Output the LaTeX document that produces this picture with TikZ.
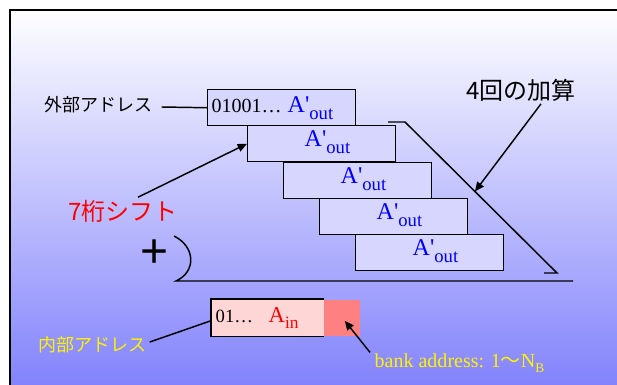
\documentclass[tikz,border=0pt]{standalone}
\usepackage{fontspec}
\setmainfont{Liberation Serif}
\newfontfamily\jp{Noto Sans CJK JP}
\newfontfamily\plusfont{Liberation Sans}
\usetikzlibrary{arrows.meta,calc}
\definecolor{bgblue}{RGB}{126,126,252}
\definecolor{boxfill}{RGB}{214,214,255}
\definecolor{pinkfill}{RGB}{255,214,214}
\definecolor{bankred}{RGB}{255,128,128}
\newcommand\Aout{{\fontsize{18}{18}\selectfont A\textquotesingle}\raisebox{-5.5pt}{\fontsize{14}{14}\selectfont out}}
\newcommand\Ain{{\fontsize{17}{17}\selectfont A}\raisebox{-5pt}{\fontsize{13}{13}\selectfont in}}
\begin{document}
\begin{tikzpicture}[x=0.75pt,y=-0.75pt,line width=1.1pt,
  abox/.style={draw,fill=boxfill,minimum width=111pt,minimum height=27pt,inner sep=0pt,anchor=north west},
  tip/.style={-{Triangle[length=7pt,width=6pt]}},
  lbl/.style={inner sep=0pt},
  aouttxt/.style={anchor=base west,inner sep=0pt,text=blue}]
\useasboundingbox (0,0) rectangle (617,385);
\begin{scope}
\clip (0,0) rectangle (617,385);
\shade[top color=white,bottom color=bgblue] (9,9) rectangle (640,400);
\draw[line width=1.3pt] (10,400) -- (10,10) -- (640,10);
\end{scope}

% stacked boxes
\node[abox] (b1) at (207,89) {};
\node[abox] (b2) at (247,125) {};
\node[abox] (b3) at (283,162) {};
\node[abox] (b4) at (319,198) {};
\node[abox] (b5) at (355,234) {};
\node[anchor=base west,lbl,font=\fontsize{15}{15}\selectfont] (t1a) at ($(b1.north west)+(4,23)$) {01001…};
\node[aouttxt] (t1b) at ($(b1.north west)+(80,23)$) {\Aout};
\node[aouttxt] (t2) at ($(b2.north west)+(57,21)$) {\Aout};
\node[aouttxt] (t3) at ($(b3.north west)+(57,21)$) {\Aout};
\node[aouttxt] (t4) at ($(b4.north west)+(57,21)$) {\Aout};
\node[aouttxt] (t5) at ($(b5.north west)+(57,21)$) {\Aout};

% bracket
\coordinate (d1) at (388,122);
\coordinate (d2) at (405,122);
\coordinate (d3) at (557,273);
\coordinate (d4) at (544,273);
\draw (d1) -- (d2) -- (d3) -- (d4);

% labels
\node[lbl,font=\jp\fontsize{18}{18}\selectfont] (kasan) at (521,90) {4回の加算};
\draw[tip] ($(kasan.south)+(20,2)$) -- ($(d2)!0.46!(d3)$);

\node[lbl,text=red,font=\jp\fontsize{18}{18}\selectfont] (shift) at (123,211) {7桁シフト};
\draw[tip] ($(shift.north)+(15,-2)$) -- (b2.west);

\node[lbl,font=\jp\fontsize{13.5}{13.5}\selectfont] (gaibu) at (98,105) {外部アドレス};
\draw ($(gaibu.east)+(9,2)$) -- (b1.west);

% plus and sum line
\node[lbl,font=\plusfont\fontsize{36}{36}\selectfont] (plus) at (155,254) {+};
\coordinate (p0) at (174,236);
\coordinate (p1) at (176,281);
\coordinate (p2) at (573,281);
\draw (p0) .. controls (196,247) and (196,272) .. (p1) -- (p2);

% internal address
\node[fill=bankred,anchor=north west,minimum width=27pt,minimum height=27pt,inner sep=0pt] (bank) at (323,299) {};
\node[fill=pinkfill,anchor=north west,minimum width=84pt,minimum height=27pt,inner sep=0pt] (inb) at (211,299) {};
\draw (inb.north east) -- (inb.north west) -- (inb.south west) -- (inb.south east);
\node[anchor=base west,lbl,font=\fontsize{14}{14}\selectfont] (in01) at ($(inb.north west)+(4,23)$) {01…};
\node[anchor=base west,lbl,text=red] (ain) at ($(inb.north west)+(57,23)$) {\Ain};

\node[lbl,text=yellow,font=\jp\fontsize{13.5}{13.5}\selectfont] (naibu) at (92,345) {内部アドレス};
\draw ($(naibu.east)+(3,-3)$) -- ($(inb.west)+(0,3)$);

\node[anchor=base west,lbl,text=yellow,font=\fontsize{15}{15}\selectfont] (banklbl) at (374,367) {bank address: 1{\jp ～}N\raisebox{-4pt}{\fontsize{10}{10}\selectfont B}};
\draw[tip] ($(banklbl.north west)+(-4,0)$) -- ($(bank.center)+(3,3)$);
\end{tikzpicture}
\end{document}
